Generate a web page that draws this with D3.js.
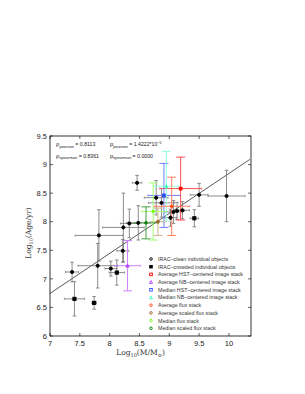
<!DOCTYPE html>
<html>
<head>
<meta charset="utf-8">
<script src="https://cdn.jsdelivr.net/npm/d3@7"></script>
<style>
body { margin: 0; background: #fff; }
svg text { font-family: "Liberation Sans", Arial, sans-serif; }
.serif { font-family: "DejaVu Serif", "Liberation Serif", serif; }
</style>
</head>
<body>
<svg id="chart" width="305" height="394"></svg>
<script>
// individual objects: [logM, xerr, logAge, yerr]
var cleanObjects = [
    [7.37, 0.11, 7.12, 0.17],
    [7.80, 0.33, 7.23, 0.39],
    [7.82, 0.40, 7.76, 0.45],
    [8.02, 0.10, 7.18, 0.13],
    [8.22, 0.10, 7.49, 0.20],
    [8.23, 0.35, 7.90, 0.60],
    [8.33, 0.15, 7.97, 0.25],
    [8.46, 0.08, 8.68, 0.13],
    [8.48, 0.20, 7.98, 0.30],
    [8.78, 0.20, 8.42, 0.30],
    [8.87, 0.22, 8.33, 0.25],
    [9.02, 0.10, 8.07, 0.15],
    [9.07, 0.15, 8.17, 0.20],
    [9.13, 0.12, 8.19, 0.15],
    [9.22, 0.12, 8.20, 0.15],
    [9.50, 0.15, 8.47, 0.20],
    [9.96, 0.31, 8.45, 0.45]
];
var crowdedObjects = [
    [7.41, 0.17, 6.65, 0.30],
    [7.74, 0.04, 6.58, 0.11],
    [8.12, 0.13, 7.11, 0.22],
    [9.42, 0.07, 8.06, 0.15]
];

// stacks: [logM, xerr, logAge, yerr]
var stackNames = ["Average HST\u2013centered image stack", "Average NB\u2013centered image stack",
    "Median HST\u2013centered image stack", "Median NB\u2013centered image stack",
    "Average flux stack", "Average scaled flux stack", "Median flux stack", "Median scaled flux stack"];
var stackValues = [
    [9.19, 0.35, 8.58, 0.55],
    [8.30, 0.22, 7.23, 0.44],
    [8.91, 0.27, 8.46, 0.56],
    [8.95, 0.20, 8.62, 0.61],
    [9.04, 0.30, 8.27, 0.51],
    [8.81, 0.12, 8.00, 0.24],
    [8.73, 0.20, 8.18, 0.50],
    [8.61, 0.20, 7.98, 0.28]
];
var stackSymbols = ["square", "triangle", "square", "triangle", "circle", "circle", "circle", "circle"];
var stackColors = ["#ff0000", "#b040ff", "#2a4cff", "#40ffc0", "#ff4a10", "#a06020", "#70ff10", "#108010"];
var stackErrColors = ["#ff5050", "#d080ff", "#7080ff", "#90ffe0", "#ff8060", "#d0b090", "#a0ff70", "#40a040"];

var xTicks = [7, 7.5, 8, 8.5, 9, 9.5, 10];
var yTicks = [6, 6.5, 7, 7.5, 8, 8.5, 9, 9.5];
var fitLine = [[7, 6.745], [10.35, 9.09]];

var svg = d3.select("#chart");
var mLeft = 50, mRight = 251, mTop = 136, mBottom = 336;

var x = d3.scaleLinear().domain([7, 10.37]).range([mLeft, mRight]);
var y = d3.scaleLinear().domain([6, 9.5]).range([mBottom, mTop]);

// frame
svg.append("rect")
    .attr("x", mLeft).attr("y", mTop)
    .attr("width", mRight - mLeft).attr("height", mBottom - mTop)
    .attr("fill", "none").attr("stroke", "#000").attr("stroke-width", 0.8);

// inward ticks on all four sides
xTicks.forEach(function(t) {
    svg.append("line").attr("x1", x(t)).attr("x2", x(t)).attr("y1", mBottom).attr("y2", mBottom - 3)
        .attr("stroke", "#000").attr("stroke-width", 0.6);
    svg.append("line").attr("x1", x(t)).attr("x2", x(t)).attr("y1", mTop).attr("y2", mTop + 3)
        .attr("stroke", "#000").attr("stroke-width", 0.6);
    svg.append("text").attr("x", x(t)).attr("y", mBottom + 10)
        .attr("text-anchor", "middle").attr("font-size", 7.5).attr("fill", "#222")
        .text(t);
});
yTicks.forEach(function(t) {
    svg.append("line").attr("x1", mLeft).attr("x2", mLeft + 3).attr("y1", y(t)).attr("y2", y(t))
        .attr("stroke", "#000").attr("stroke-width", 0.6);
    svg.append("line").attr("x1", mRight).attr("x2", mRight - 3).attr("y1", y(t)).attr("y2", y(t))
        .attr("stroke", "#000").attr("stroke-width", 0.6);
    svg.append("text").attr("x", mLeft - 3).attr("y", y(t) + 2.7)
        .attr("text-anchor", "end").attr("font-size", 7.5).attr("fill", "#222")
        .text(t);
});

// axis labels
var xl = svg.append("text").attr("class", "serif").attr("x", (mLeft + mRight) / 2 - 10).attr("y", 355)
    .attr("text-anchor", "middle").attr("font-size", 7.5).attr("fill", "#333");
xl.append("tspan").text("Log");
xl.append("tspan").attr("font-size", 5).attr("dy", 1.8).text("10");
xl.append("tspan").attr("dy", -1.8).text("(M/M");
xl.append("tspan").attr("font-size", 5).attr("dy", 1.8).text("\u2299");
xl.append("tspan").attr("dy", -1.8).text(")");

var yl = svg.append("text").attr("class", "serif")
    .attr("transform", "translate(31," + ((mTop + mBottom) / 2 - 3) + ") rotate(-90)")
    .attr("text-anchor", "middle").attr("font-size", 7.5).attr("fill", "#333");
yl.append("tspan").text("Log");
yl.append("tspan").attr("font-size", 5).attr("dy", 1.8).text("10");
yl.append("tspan").attr("dy", -1.8).text("(Age/yr)");

// correlation texts
function statText(px, py, sym, sub, val) {
    var t = svg.append("text").attr("x", px).attr("y", py).attr("font-size", 5.2).attr("fill", "#222");
    t.append("tspan").attr("font-size", 6).text(sym);
    t.append("tspan").attr("font-size", 4).attr("dy", 1.5).text(sub);
    t.append("tspan").attr("dy", -1.5).text(" = " + val);
    return t;
}
statText(56, 146, "\u03c1", "pearson", "0.8113");
statText(56, 157.5, "\u03c1", "spearman", "0.8361");
var pp = statText(110, 146, "p", "pearson", "1.4222*10");
pp.append("tspan").attr("font-size", 3.8).attr("dy", -2.5).text("\u22125");
statText(110, 157.5, "p", "spearman", "0.0000");

// fit line
svg.append("line")
    .attr("x1", x(fitLine[0][0])).attr("y1", y(fitLine[0][1]))
    .attr("x2", x(fitLine[1][0])).attr("y2", y(fitLine[1][1]))
    .attr("stroke", "#111").attr("stroke-width", 0.7);

function errorBars(g, d, color, cap, w) {
    g.append("line").attr("x1", x(d[0] - d[1])).attr("x2", x(d[0] + d[1]))
        .attr("y1", y(d[2])).attr("y2", y(d[2])).attr("stroke", color).attr("stroke-width", w);
    g.append("line").attr("x1", x(d[0])).attr("x2", x(d[0]))
        .attr("y1", y(d[2] - d[3])).attr("y2", y(d[2] + d[3])).attr("stroke", color).attr("stroke-width", w);
    [d[2] - d[3], d[2] + d[3]].forEach(function(v) {
        g.append("line").attr("x1", x(d[0]) - cap).attr("x2", x(d[0]) + cap)
            .attr("y1", y(v)).attr("y2", y(v)).attr("stroke", color).attr("stroke-width", w);
    });
    [d[0] - d[1], d[0] + d[1]].forEach(function(v) {
        g.append("line").attr("x1", x(v)).attr("x2", x(v))
            .attr("y1", y(d[2]) - 1.2).attr("y2", y(d[2]) + 1.2).attr("stroke", color).attr("stroke-width", 0.6);
    });
}

var gInd = svg.append("g");
cleanObjects.forEach(function(d) { errorBars(gInd, d, "#707070", 1.8, 0.8); });
crowdedObjects.forEach(function(d) { errorBars(gInd, d, "#707070", 1.8, 0.8); });

var gStack = svg.append("g");
stackValues.forEach(function(d, i) { errorBars(gStack, d, stackErrColors[i], 4.5, 1); });

function marker(g, type, cx, cy, color, fill, size) {
    if (type === "circle") {
        g.append("circle").attr("cx", cx).attr("cy", cy).attr("r", size)
            .attr("fill", fill).attr("stroke", color).attr("stroke-width", 0.9);
    } else if (type === "square") {
        g.append("rect").attr("x", cx - size).attr("y", cy - size)
            .attr("width", size * 2).attr("height", size * 2)
            .attr("fill", fill).attr("stroke", color).attr("stroke-width", 0.9);
    } else {
        var s = size * 1.2;
        g.append("path").attr("d", "M" + cx + "," + (cy - s) + "L" + (cx + s) + "," + (cy + s * 0.8) +
            "L" + (cx - s) + "," + (cy + s * 0.8) + "Z")
            .attr("fill", fill).attr("stroke", color).attr("stroke-width", 0.9);
    }
}

var gMarks = svg.append("g");
cleanObjects.forEach(function(d) { marker(gMarks, "circle", x(d[0]), y(d[2]), "#000", "#000", 1.6); });
crowdedObjects.forEach(function(d) { marker(gMarks, "square", x(d[0]), y(d[2]), "#000", "#000", 1.6); });
stackValues.forEach(function(d, i) {
    marker(gMarks, stackSymbols[i], x(d[0]), y(d[2]), stackColors[i], stackColors[i], 1.4);
});

// legend
var legendNames = ["IRAC\u2013clean individual objects", "IRAC\u2013crowded individual objects"].concat(stackNames);
var legendSymbols = ["circle", "square"].concat(stackSymbols);
var legendColors = ["#000", "#000"].concat(stackColors);
var legendY = d3.scaleLinear().domain([0, legendNames.length - 1]).range([259, 328.3]);
var gLeg = svg.append("g");
legendNames.forEach(function(name, i) {
    marker(gLeg, legendSymbols[i], 151, legendY(i), legendColors[i], i === 1 ? "#000" : "none", 1.3);
    gLeg.append("text").attr("x", 158).attr("y", legendY(i) + 1.9)
        .attr("font-size", 5.3).attr("fill", "#333").text(name);
});
</script>
</body>
</html>
